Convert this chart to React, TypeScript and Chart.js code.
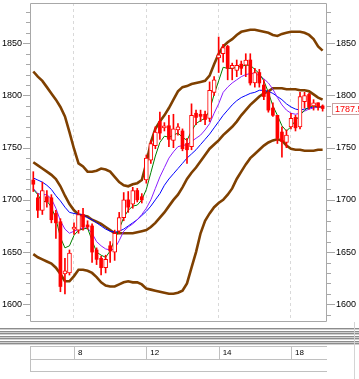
import React, { useEffect, useRef } from 'react';
import { Chart, registerables } from 'chart.js';
Chart.register(...registerables);

// x-axis day labels and the candle index where each one sits
const dayLabels = ['8', '12', '14', '18'];
const dayTickIndex = [9, 25, 41, 57];
const yTickLabels = [1600, 1650, 1700, 1750, 1800, 1850];

const open = [1719, 1702, 1690, 1703, 1702, 1687, 1679, 1629, 1630, 1672, 1671, 1686, 1676, 1675, 1652, 1644, 1635, 1656, 1650, 1670, 1683, 1700, 1696, 1709, 1703, 1719, 1738, 1752, 1775, 1769, 1771, 1757, 1767, 1766, 1754, 1751, 1783, 1782, 1782, 1778, 1803, 1836, 1840, 1847, 1826, 1824, 1830, 1829, 1834, 1812, 1822, 1810, 1803, 1788, 1781, 1765, 1755, 1770, 1779, 1770, 1794, 1801, 1790, 1793, 1790];
const high = [1727, 1706, 1717, 1709, 1705, 1690, 1682, 1644, 1652, 1678, 1690, 1692, 1680, 1677, 1654, 1646, 1647, 1660, 1671, 1688, 1707, 1708, 1712, 1711, 1706, 1743, 1757, 1770, 1784, 1774, 1781, 1782, 1773, 1768, 1759, 1792, 1786, 1786, 1785, 1813, 1818, 1856, 1849, 1848, 1831, 1834, 1833, 1840, 1840, 1826, 1825, 1815, 1805, 1793, 1781, 1770, 1767, 1783, 1781, 1803, 1803, 1802, 1796, 1793, 1791];
const low = [1708, 1683, 1686, 1693, 1678, 1663, 1612, 1610, 1628, 1667, 1668, 1671, 1672, 1640, 1638, 1628, 1630, 1640, 1642, 1668, 1680, 1688, 1692, 1698, 1697, 1716, 1735, 1749, 1758, 1766, 1751, 1750, 1762, 1747, 1735, 1748, 1772, 1775, 1772, 1775, 1800, 1822, 1832, 1815, 1815, 1818, 1820, 1818, 1810, 1808, 1808, 1796, 1784, 1780, 1754, 1741, 1750, 1768, 1766, 1768, 1788, 1787, 1786, 1786, 1785];
const close = [1715, 1690, 1709, 1698, 1681, 1678, 1617, 1632, 1649, 1674, 1686, 1674, 1674, 1650, 1643, 1635, 1643, 1651, 1668, 1683, 1700, 1693, 1709, 1700, 1700, 1740, 1754, 1765, 1764, 1771, 1758, 1768, 1770, 1749, 1748, 1781, 1779, 1780, 1777, 1805, 1815, 1839, 1846, 1826, 1829, 1829, 1826, 1834, 1812, 1822, 1812, 1799, 1786, 1781, 1759, 1756, 1762, 1778, 1769, 1799, 1800, 1789, 1793, 1789, 1787.5];

const maShort = [1710, 1705, 1698, 1699, 1693, 1682, 1664, 1654, 1656, 1666, 1671, 1672, 1673, 1661, 1650, 1647, 1645, 1651, 1662, 1672, 1683, 1690, 1694, 1695, 1700, 1710, 1726, 1742, 1755, 1761, 1760, 1762, 1764, 1760, 1757, 1766, 1773, 1776, 1778, 1786, 1801, 1814, 1827, 1826, 1826, 1827, 1828, 1829, 1829, 1825, 1821, 1814, 1803, 1790, 1781, 1771, 1766, 1770, 1776, 1781, 1786, 1789, 1790, 1789, 1789];
const maMid = [1711, 1706, 1705, 1705, 1701, 1692, 1680, 1672, 1668, 1670, 1672, 1673, 1673, 1668, 1660, 1656, 1653, 1652, 1653, 1661, 1670, 1674, 1677, 1681, 1686, 1692, 1700, 1711, 1722, 1731, 1740, 1746, 1751, 1752, 1753, 1756, 1759, 1762, 1767, 1773, 1783, 1792, 1803, 1808, 1812, 1815, 1818, 1820, 1821, 1821, 1819, 1816, 1812, 1806, 1798, 1791, 1786, 1783, 1782, 1783, 1785, 1787, 1788, 1789, 1789];
const maLong = [1721, 1719, 1717, 1714, 1710, 1704, 1699, 1693, 1688, 1687, 1686, 1686, 1683, 1681, 1678, 1675, 1672, 1670, 1669, 1670, 1672, 1675, 1678, 1681, 1685, 1689, 1694, 1700, 1706, 1714, 1720, 1725, 1730, 1735, 1740, 1744, 1748, 1753, 1758, 1763, 1769, 1775, 1781, 1786, 1791, 1795, 1798, 1800, 1802, 1803, 1805, 1805, 1804, 1802, 1799, 1796, 1792, 1789, 1787, 1786, 1787, 1788, 1789, 1789, 1789];

const bandUpper = [1823, 1818, 1814, 1808, 1802, 1796, 1789, 1780, 1765, 1749, 1735, 1732, 1727, 1727, 1728, 1730, 1729, 1727, 1722, 1717, 1714, 1713, 1715, 1716, 1719, 1735, 1755, 1768, 1775, 1781, 1788, 1796, 1804, 1808, 1809, 1811, 1812, 1813, 1814, 1819, 1830, 1840, 1847, 1851, 1854, 1858, 1861, 1862, 1863, 1863, 1862, 1861, 1860, 1858, 1857, 1859, 1860, 1861, 1861, 1861, 1860, 1858, 1854, 1847, 1843];
const bandMiddle = [1736, 1733, 1730, 1727, 1724, 1720, 1713, 1704, 1696, 1690, 1686, 1685, 1684, 1681, 1679, 1677, 1674, 1671, 1668, 1668, 1668, 1668, 1668, 1669, 1670, 1671, 1674, 1678, 1683, 1688, 1694, 1700, 1705, 1712, 1720, 1726, 1731, 1737, 1743, 1749, 1753, 1757, 1762, 1766, 1770, 1775, 1781, 1786, 1791, 1795, 1799, 1802, 1804, 1807, 1807, 1807, 1806, 1806, 1806, 1805, 1805, 1804, 1801, 1798, 1796];
const bandLower = [1648, 1645, 1643, 1641, 1639, 1635, 1629, 1622, 1622, 1627, 1633, 1633, 1632, 1630, 1626, 1621, 1618, 1617, 1617, 1619, 1621, 1622, 1621, 1621, 1619, 1615, 1614, 1613, 1612, 1611, 1610, 1610, 1611, 1613, 1620, 1635, 1650, 1668, 1680, 1687, 1693, 1697, 1700, 1705, 1711, 1720, 1727, 1734, 1740, 1744, 1748, 1752, 1755, 1757, 1758, 1757, 1752, 1749, 1748, 1748, 1747, 1747, 1747, 1748, 1748];

const lastValueText = '1787.50';

const Y_MIN = 1583.0;
const Y_MAX = 1888.6;
const X_MIN = -0.73;
const X_MAX = 64.97;

const FONT = 'Liberation Sans, Arial, sans-serif';

export default function App() {
  const ref = useRef<HTMLCanvasElement | null>(null);

  useEffect(() => {
    document.body.style.margin = '0';
    const canvas = ref.current;
    if (!canvas) return;

    const idx = open.map((_, i) => i);
    const upBodies = idx.filter(i => close[i] >= open[i]).map(i => ({ x: i, y: [open[i], close[i]] }));
    const downBodies = idx.filter(i => close[i] < open[i]).map(i => ({ x: i, y: [close[i], open[i]] }));
    const wicks = idx.map(i => ({ x: i, y: [low[i], high[i]] }));
    const pts = (arr: number[]) => arr.map((v, i) => ({ x: i, y: v }));

    const lineDs = (arr: number[], color: string, width: number, order: number) => ({
      type: 'line' as const,
      data: pts(arr),
      borderColor: color,
      borderWidth: width,
      pointRadius: 0,
      tension: 0,
      fill: false,
      order,
    });

    const decor = {
      id: 'decor',
      afterDraw(chart: any) {
        const { ctx, chartArea } = chart;
        const { left, right, top, bottom } = chartArea;
        const ys = chart.scales.y;
        const xs = chart.scales.x;
        ctx.save();
        // plot frame
        ctx.strokeStyle = '#a8a8a8';
        ctx.lineWidth = 1;
        ctx.beginPath();
        ctx.moveTo(left + 0.5, top + 0.5);
        ctx.lineTo(right - 0.5, top + 0.5);
        ctx.lineTo(right - 0.5, bottom - 0.5);
        ctx.lineTo(left + 0.5, bottom - 0.5);
        ctx.closePath();
        ctx.stroke();
        // axis tick marks (major every 50, minor every 10)
        ctx.beginPath();
        for (let v = 1590; v <= 1880; v += 10) {
          const py = Math.round(ys.getPixelForValue(v)) + 0.5;
          const major = v % 50 === 0;
          ctx.moveTo(left - (major ? 7 : 4), py);
          ctx.lineTo(left, py);
          ctx.moveTo(right, py);
          ctx.lineTo(right + (major ? 8 : 4), py);
        }
        ctx.stroke();

        // splitter band
        const dark = [328, 331, 333, 336, 338, 341, 343];
        const light = [329, 332, 334, 337, 339, 342, 344];
        ctx.fillStyle = '#8c8c8c';
        dark.forEach(y => ctx.fillRect(0, y, 359, 1));
        ctx.fillStyle = '#cfcfcf';
        light.forEach(y => ctx.fillRect(0, y, 359, 1));

        // date box
        ctx.strokeStyle = '#c0c0c0';
        ctx.beginPath();
        ctx.moveTo(left, 346.5); ctx.lineTo(right, 346.5);
        ctx.moveTo(left, 359.5); ctx.lineTo(right, 359.5);
        ctx.moveTo(left, 371.5); ctx.lineTo(right, 371.5);
        ctx.moveTo(left + 0.5, 346); ctx.lineTo(left + 0.5, 372);
        dayTickIndex.forEach(t => {
          const px = Math.round(xs.getPixelForValue(t)) + 0.5;
          ctx.moveTo(px, 346); ctx.lineTo(px, 359.5);
        });
        ctx.stroke();
        ctx.strokeStyle = '#d4d4d4';
        ctx.beginPath();
        ctx.moveTo(354.5, bottom); ctx.lineTo(354.5, 379);
        ctx.stroke();

        // last value box
        const ly = Math.round(ys.getPixelForValue(close[close.length - 1]));
        ctx.fillStyle = '#ffffff';
        ctx.fillRect(332, ly - 6, 30, 11);
        ctx.strokeStyle = '#c8a0a0';
        ctx.strokeRect(332.5, ly - 5.5, 30, 11);
        ctx.fillStyle = '#ff0000';
        ctx.font = `9px ${FONT}`;
        ctx.textBaseline = 'middle';
        ctx.textAlign = 'left';
        ctx.fillText(lastValueText, 335, ly + 0.5);
        ctx.restore();
      },
    };

    const yTicksCommon = {
      autoSkip: false,
      color: '#000000',
      font: { family: FONT, size: 9 },
      callback: (v: any) => String(v),
    };

    const chart = new Chart(canvas, {
      type: 'bar',
      data: {
        datasets: [
          { type: 'bar', data: upBodies as any, backgroundColor: '#ffffff', borderColor: '#ff0000', borderWidth: 1, borderSkipped: false, barThickness: 4, grouped: false, order: 0 } as any,
          { type: 'bar', data: downBodies as any, backgroundColor: '#ff0000', borderColor: '#ff0000', borderWidth: 0, barThickness: 3, grouped: false, order: 0 } as any,
          { type: 'bar', data: wicks as any, backgroundColor: '#ff0000', borderWidth: 0, barThickness: 1, grouped: false, order: 1 } as any,
          lineDs(maShort, '#008000', 1, 2),
          lineDs(maMid, '#8c1eff', 1, 3),
          lineDs(maLong, '#0000ff', 1, 4),
          lineDs(bandUpper, '#7f4000', 2.6, 5),
          lineDs(bandMiddle, '#7f4000', 2.6, 5),
          lineDs(bandLower, '#7f4000', 2.6, 5),
        ],
      },
      options: {
        responsive: false,
        animation: false,
        devicePixelRatio: 1,
        layout: { padding: { top: 3, left: 0, right: 0, bottom: 0 } },
        plugins: { legend: { display: false }, tooltip: { enabled: false } },
        scales: {
          x: {
            type: 'linear',
            position: 'bottom',
            min: X_MIN,
            max: X_MAX,
            offset: false,
            afterBuildTicks: (s: any) => { s.ticks = dayTickIndex.map(v => ({ value: v })); },
            afterFit: (s: any) => { s.height = 57; s.paddingLeft = 0; s.paddingRight = 0; },
            grid: { color: '#d9d9d9', drawTicks: false, lineWidth: 1, offset: false },
            border: { display: false, dash: [3, 3] },
            ticks: {
              autoSkip: false,
              maxRotation: 0,
              align: 'start',
              labelOffset: 4,
              padding: 26,
              color: '#000000',
              font: { family: FONT, size: 8 },
              callback: (v: any) => dayLabels[dayTickIndex.indexOf(Number(v))] ?? '',
            },
          },
          y: {
            type: 'linear',
            position: 'left',
            min: Y_MIN,
            max: Y_MAX,
            afterBuildTicks: (s: any) => { s.ticks = yTickLabels.map(v => ({ value: v })); },
            afterFit: (s: any) => { s.width = 30; s.paddingTop = 0; s.paddingBottom = 0; },
            grid: { display: false, drawTicks: false },
            border: { display: false },
            ticks: { ...yTicksCommon, padding: 8 },
          },
          y2: {
            type: 'linear',
            position: 'right',
            min: Y_MIN,
            max: Y_MAX,
            afterBuildTicks: (s: any) => { s.ticks = yTickLabels.map(v => ({ value: v })); },
            afterFit: (s: any) => { s.width = 32; s.paddingTop = 0; s.paddingBottom = 0; },
            grid: { display: false, drawTicks: false },
            border: { display: false },
            ticks: { ...yTicksCommon, padding: 9 },
          },
        },
      } as any,
      plugins: [decor],
    });

    return () => chart.destroy();
  }, []);

  return (
    <div style={{ width: 359, height: 379 }}>
      <canvas ref={ref} width={359} height={379} style={{ display: 'block' }} />
    </div>
  );
}
